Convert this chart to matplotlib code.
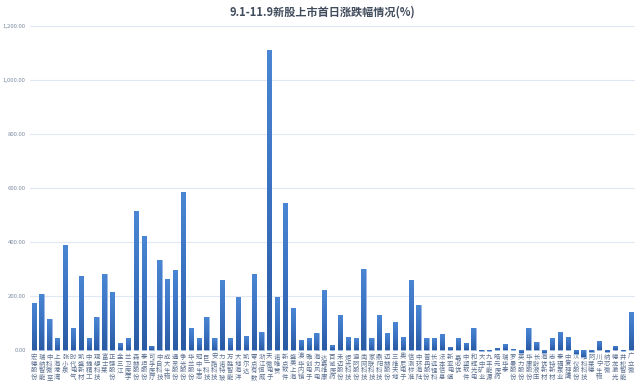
import numpy as np
import matplotlib
matplotlib.use("Agg")
import matplotlib.pyplot as plt
from matplotlib.colors import LinearSegmentedColormap

plt.rcParams['font.family'] = ['Noto Sans CJK SC', 'DejaVu Sans']

title = "9.1-11.9新股上市首日涨跌幅情况(%)"

names = [
    "宏德股份", "瑞纳智能", "中科微至", "上海港湾", "张小泉", "时代电气", "凯盛新材", "中捷精工",
    "观想科技", "富士莱", "正强股份", "金三江", "兰卫医学", "森赫股份", "泰坦股份", "可孚医疗",
    "中自科技", "成大生物", "通灵股份", "争光股份", "华兰股份", "冠中生态", "巨一科技", "安路科技",
    "力诺特玻", "万胜智能", "大地海洋", "凯尔达", "零点有数", "浙江恒威", "天微电子", "诺唯赞",
    "新点软件", "盛美上海", "澳华内镜", "雅创电子", "海力风电", "达嘉维康", "百诚医药", "禾迈股份",
    "炬光科技", "迪阿股份", "南网科技", "家联科技", "鼎阳科技", "迈赫股份", "三维天地", "奥尼电子",
    "信测标准", "中环海陆", "普冉股份", "长远锂科", "法本信息", "新亚电缆", "嘉必优", "中望软件",
    "和辉光电", "大中矿业", "九丰能源", "皓元医药", "瑞华泰", "罗曼股份", "英力股份", "华康股份",
    "长龄液压", "海优新材", "志特新材", "泰福泵业", "中复神鹰", "汉仪股份", "唯科科技", "阿莱德",
    "川宁生物", "纳芯微", "德龙激光", "井松智能", "广立微",
]

# first-day change, %
values = [
    175, 208, 113, 44, 390, 80, 275, 44, 122, 280, 214, 26, 44, 513, 421, 15,
    335, 263, 296, 584, 80, 44, 123, 44, 258, 44, 195, 51, 283, 67, 1110, 195,
    544, 154, 38, 44, 62, 223, 17, 131, 48, 44, 301, 44, 131, 62, 103, 48,
    258, 165, 44, 46, 58, 12, 44, 27, 83, -5, -2, 9, 21, 3, -10, 80,
    28, -10, 44, 68, 49, -15, -26, -7, 35, -8, 15, -3, 140,
]

yticks = [0, 200, 400, 600, 800, 1000, 1200]

W, H = 641, 392
fig = plt.figure(figsize=(W / 100, H / 100), dpi=100)
ax = fig.add_axes([29.8 / W, (H - 350) / H, 604.8 / W, 324 / H])

x = np.arange(len(values))
ax.set_xlim(-0.5, len(values) - 0.5)
ax.set_ylim(0, 1200)

for s in ax.spines.values():
    s.set_visible(False)

ax.set_yticks(yticks)
ax.set_yticklabels([f"{v:,.2f}" for v in yticks])
ax.tick_params(axis='y', length=0, pad=3, labelsize=4.3, labelcolor='#7d8ca3')
ax.tick_params(axis='x', length=0, labelbottom=False)
ax.grid(axis='y', color='#dfe8f4', linewidth=0.8)
ax.set_axisbelow(True)

bars = ax.bar(x, values, width=0.54, color='#3568b4', edgecolor='#9dbce6',
              linewidth=0.5, zorder=2, clip_on=False)

cmap = LinearSegmentedColormap.from_list('bar', ['#2a5aa3', '#3a72c2', '#4a86d4'])
grad = np.linspace(0, 1, 64).reshape(-1, 1)
for b in bars:
    x0 = b.get_x()
    x1 = x0 + b.get_width()
    y0 = min(0, b.get_y() + b.get_height(), b.get_y())
    y1 = max(0, b.get_y() + b.get_height())
    im = ax.imshow(grad, extent=(x0, x1, y0, y1), origin='lower', aspect='auto',
                   cmap=cmap, zorder=3, interpolation='bilinear')
    im.set_clip_path(b)

ax.set_xlim(-0.5, len(values) - 0.5)
ax.set_ylim(0, 1200)
ax.set_autoscale_on(False)

# vertical company names under each bar
for xi, name in zip(x, names):
    ax.annotate("\n".join(name), xy=(xi, 0), xytext=(0, -2.0),
                textcoords='offset points', ha='center', va='top',
                fontsize=4.6, linespacing=0.8, color='#5b6f8e',
                annotation_clip=False, zorder=1)

fig.text(322 / W, 1 - 12.5 / H, title, ha='center', va='center',
         fontsize=8, fontweight='bold', color='#404b5c')

fig.savefig("out.png", dpi=100, facecolor='white')
